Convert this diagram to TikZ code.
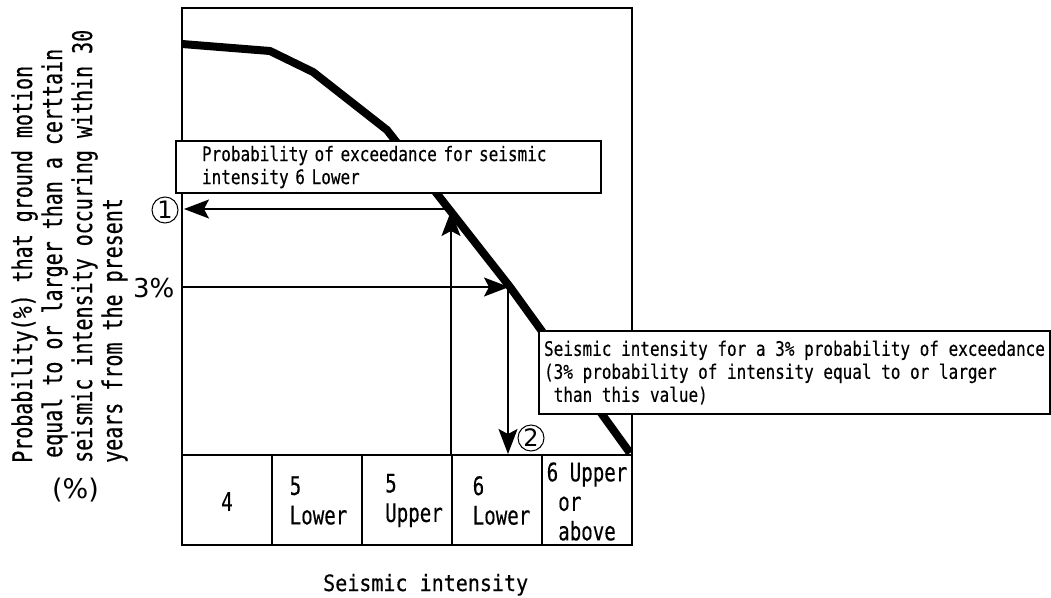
\documentclass[tikz,border=0pt]{standalone}
\usepackage{fontspec}
\usetikzlibrary{arrows.meta}
% Gothic-like monospaced faces at the widths used in the chart
\newfontfamily\notefont[FakeStretch=0.80,FakeBold=0.3]{DejaVu Sans Mono}
\newfontfamily\ylabfont[FakeStretch=0.74,FakeBold=0.5]{DejaVu Sans Mono}
\newfontfamily\xlabfont[FakeStretch=0.89,FakeBold=0.4]{DejaVu Sans Mono}
\newfontfamily\cellfont[FakeStretch=0.75,FakeBold=0.3]{DejaVu Sans Mono}
\newfontfamily\plainsans{DejaVu Sans}
\begin{document}
\begin{tikzpicture}[x=1pt,y=-1pt,
  frameline/.style={line width=2pt},
  hazard/.style={line width=8pt, line join=round},
  readoff/.style={line width=1.5pt, -{Stealth[length=25pt,width=19pt,inset=5pt]}},
  notebox/.style={draw, fill=white, line width=2pt, align=left, inner ysep=0pt,
    font=\notefont\fontsize{20}{23}\selectfont},
  celltext/.style={inner sep=0pt, align=left, font=\cellfont\fontsize{25.5}{29.5}\selectfont},
  ylab/.style={anchor=base west, rotate=90, inner sep=0pt,
    font=\ylabfont\fontsize{27}{27}\selectfont},
  marker/.style={circle, draw, line width=1pt, minimum size=26pt, inner sep=0pt,
    font=\plainsans\fontsize{24}{24}\selectfont}]
\useasboundingbox (0,0) rectangle (1051,597);

% plot frame
\draw[frameline] (182,8) rectangle (632,455);

% hazard curve, kept inside the frame
\begin{scope}
  \clip (182,8) rectangle (632,455);
  \draw[hazard] (182,44) -- (270,51) -- (313,72) -- (387,130) -- (510,287) -- (630,453);
\end{scope}

% intensity class table
\draw[frameline] (182,455) rectangle (632,545);
\foreach \xc in {272,362,452,542} \draw[frameline] (\xc,455) -- (\xc,545);
\node[celltext] (c4)  at (227,501.5) {4};
\node[celltext] (c5l) at (318.5,500.5) {5\\Lower};
\node[celltext] (c5u) at (414,500.5) {5\\Upper};
\node[celltext] (c6l) at (501.5,500.5) {6\\Lower};
\node[celltext] (c6u) at (587,501.5) {6 Upper\\\hphantom{x}or\\\hphantom{x}above};

% read-off points
\coordinate (p1base) at (451,455);
\coordinate (p1curve) at (451,211);
\coordinate (p1start) at (451,209);
\coordinate (p1axis) at (184,209);
\coordinate (p3axis) at (183,287);
\coordinate (p3curve) at (509,287);
\coordinate (p3start) at (508,287);
\coordinate (p3base) at (508,454);

\draw[readoff] (p1base) -- (p1curve);
\draw[readoff] (p1start) -- (p1axis);
\draw[readoff] (p3axis) -- (p3curve);
\draw[readoff] (p3start) -- (p3base);

% explanatory notes
\node[notebox, anchor=north west, minimum width=425pt, minimum height=52pt,
      text width=373pt, inner xsep=26pt] (note1) at (175,140)
  {Probability of exceedance for seismic\\intensity 6 Lower};
\node[notebox, anchor=north west, minimum width=511pt, minimum height=83pt,
      inner xsep=4pt] (note2) at (538,330)
  {Seismic intensity for a 3\% probability of exceedance\\(3\% probability of intensity equal to or larger\\\hphantom{x}than this value)};

% numbered markers
\node[marker] (m1) at (165,210) {1};
\node[marker] (m2) at (531,438) {2};

% axis texts
\node[anchor=base west, inner sep=0pt, font=\plainsans\fontsize{26}{26}\selectfont] (pct) at (133,297) {3\%};
\node[ylab] (y1) at (32,463) {Probability(\%) that ground motion};
\node[ylab] (y2) at (62,458) {equal to or larger than a certtain};
\node[ylab] (y3) at (92,463) {seismic intensity occuring within 30};
\node[ylab] (y4) at (122,463) {years from the present};
\node[anchor=base west, inner sep=0pt, font=\plainsans\fontsize{27}{27}\selectfont] (unit) at (52,498) {(\%)};
\node[anchor=base west, inner sep=0pt, font=\xlabfont\fontsize{22.5}{22.5}\selectfont] (xlab) at (323,591) {Seismic intensity};
\end{tikzpicture}
\end{document}
